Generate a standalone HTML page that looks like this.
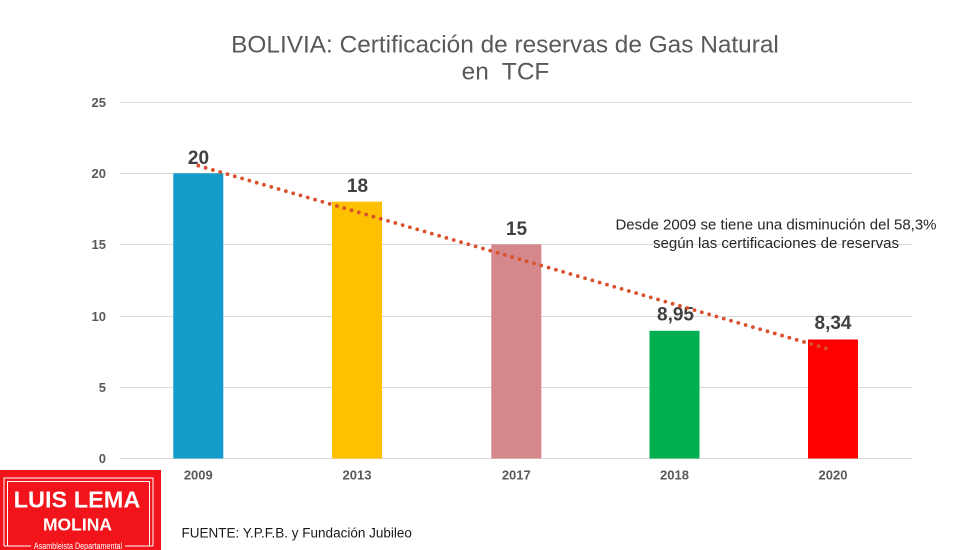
<!DOCTYPE html>
<html>
<head>
<meta charset="utf-8">
<style>
html,body{margin:0;padding:0;background:#fff;}
svg{display:block;}
</style>
</head>
<body>
<svg width="980" height="550" viewBox="0 0 980 550" xmlns="http://www.w3.org/2000/svg" font-family="'Liberation Sans', Arial, sans-serif">
<rect width="980" height="550" fill="#fff"/>
<!-- Title -->
<text x="505" y="52.5" text-anchor="middle" font-size="24.4" fill="#595959">BOLIVIA: Certificación de reservas de Gas Natural</text>
<text x="505.5" y="79.5" text-anchor="middle" font-size="24.4" fill="#595959" xml:space="preserve">en  TCF</text>

<!-- Gridlines -->
<g stroke="#D9D9D9" stroke-width="1">
<line x1="120" y1="102.5" x2="912" y2="102.5"/>
<line x1="120" y1="173.5" x2="912" y2="173.5"/>
<line x1="120" y1="244.5" x2="912" y2="244.5"/>
<line x1="120" y1="316.5" x2="912" y2="316.5"/>
<line x1="120" y1="387.5" x2="912" y2="387.5"/>
<line x1="120" y1="458.5" x2="912" y2="458.5"/>
</g>

<!-- Y tick labels -->
<g font-size="13" font-weight="bold" fill="#595959" text-anchor="end">
<text x="106" y="107.2">25</text>
<text x="106" y="178.2">20</text>
<text x="106" y="249.2">15</text>
<text x="106" y="321.2">10</text>
<text x="106" y="392.2">5</text>
<text x="106" y="463.2">0</text>
</g>

<!-- Bars -->
<rect x="173.3" y="173.3" width="50" height="285.2" fill="#139BCA"/>
<rect x="332" y="201.7" width="50" height="256.8" fill="#FFC000"/>
<rect x="491.3" y="244.3" width="50" height="214.2" fill="#D6878C"/>
<rect x="649.5" y="330.8" width="50" height="127.7" fill="#00B050"/>
<rect x="808" y="339.5" width="50" height="119" fill="#FF0000"/>

<!-- Value labels -->
<g font-size="19" font-weight="bold" fill="#404040" text-anchor="middle">
<text x="198.5" y="164">20</text>
<text x="357.5" y="192">18</text>
<text x="516.5" y="235">15</text>
<text x="675.5" y="320.5">8,95</text>
<text x="833" y="329">8,34</text>
</g>

<!-- Trendline -->
<line x1="198.3" y1="165.7" x2="833" y2="350.4" stroke="#D9512C" stroke-width="3.8" stroke-linecap="round" stroke-dasharray="0 7.6"/>

<!-- X labels -->
<g font-size="13" font-weight="bold" fill="#595959" text-anchor="middle">
<text x="198.3" y="479.3">2009</text>
<text x="357" y="479.3">2013</text>
<text x="516.3" y="479.3">2017</text>
<text x="674.5" y="479.3">2018</text>
<text x="833" y="479.3">2020</text>
</g>

<!-- Annotation -->
<g font-size="15" fill="#262626" text-anchor="middle">
<text x="776" y="229.5">Desde 2009 se tiene una disminución del 58,3%</text>
<text x="776" y="248">según las certificaciones de reservas</text>
</g>

<!-- Source -->
<text x="181.5" y="537.7" font-size="13.5" fill="#1a1a1a">FUENTE: Y.P.F.B. y Fundación Jubileo</text>

<!-- Logo -->
<rect x="0" y="470" width="161" height="80" fill="#F2141B"/>
<g stroke="#fff" fill="none" stroke-width="1">
<path d="M4 546 V478 H153 V546"/>
<path d="M7.5 546 V481.5 H149.5 V546"/>
<line x1="4" y1="546" x2="31" y2="546"/>
<line x1="125" y1="546" x2="153" y2="546"/>
</g>
<text x="77" y="507.7" text-anchor="middle" font-size="23.5" font-weight="bold" fill="#fff">LUIS LEMA</text>
<text x="77.5" y="530.7" text-anchor="middle" font-size="17.5" font-weight="bold" fill="#fff">MOLINA</text>
<text x="78" y="549" text-anchor="middle" font-size="9" fill="#fff" transform="translate(78 0) scale(0.8 1) translate(-78 0)">Asambleista Departamental</text>
</svg>
</body>
</html>
